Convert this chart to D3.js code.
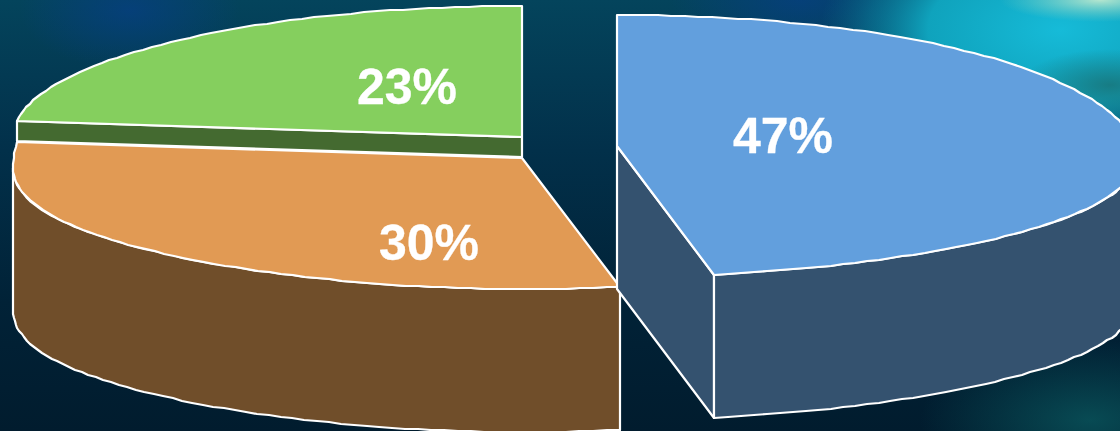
<!DOCTYPE html>
<html><head><meta charset="utf-8">
<script src="https://cdn.jsdelivr.net/npm/d3@7/dist/d3.min.js"></script>
<style>html,body{margin:0;padding:0;background:#02243a;overflow:hidden}svg{display:block}</style>
</head><body><svg id="c" width="1120" height="431"></svg>
<script>
const categories = ["Blue", "Orange", "Green"];
const shares = [47, 30, 23];
const labels = ["47%", "30%", "23%"];
const topColors = ["#629fdd", "#e19a54", "#85cf5e"];
const sideColors = ["#34526f", "#704e2a", "#446a30"];

const W = 1120, H = 431;
const svg = d3.select("#c");
const defs = svg.append("defs");

// background
function radial(id, stops){
  const g = defs.append("radialGradient").attr("id", id);
  stops.forEach(s => g.append("stop").attr("offset", s[0]).attr("stop-color", s[1]).attr("stop-opacity", s[2]));
}
const base = defs.append("linearGradient").attr("id","base").attr("x1",0).attr("y1",0).attr("x2",0).attr("y2",1);
[[0,"#04445c"],[0.35,"#02304a"],[0.7,"#012237"],[1,"#011c2e"]].forEach(s=>base.append("stop").attr("offset",s[0]).attr("stop-color",s[1]));
radial("navy",[[0,"#063f80",0.8],[1,"#063f80",0]]);
radial("cyan",[[0,"#16bbd8",1],[0.55,"#10a8c2",0.95],[0.8,"#0b80a0",0.55],[1,"#0a6a90",0]]);
radial("pale",[[0,"#b4e6cf",1],[1,"#7fd0c0",0]]);
radial("swirl",[[0,"#177c84",1],[1,"#177c84",0]]);
radial("low",[[0,"#0a5a60",0.75],[1,"#0a5a60",0]]);
svg.append("rect").attr("width",W).attr("height",H).attr("fill","url(#base)");
const glow = (cx,cy,rx,ry,f)=>svg.append("ellipse").attr("cx",cx).attr("cy",cy).attr("rx",rx).attr("ry",ry).attr("fill",`url(#${f})`);
glow(130,10,110,60,"navy");
glow(800,0,130,60,"navy");
glow(1060,30,240,130,"cyan");
glow(1100,0,100,22,"pale");
glow(1110,85,90,36,"swirl");
glow(1090,420,170,80,"low");

// projection of the tilted pie
const rxLeft = [520, 509, 509], rxRight = [520, 525, 509], ry = 131;
const centers = [[617,146],[522,158],[522,137]];
const depth = [143, 143, 20];
const sag = 10;
const pie = d3.pie().sort(null).value(d=>d).startAngle(0).endAngle(2*Math.PI);
const arcs = pie(shares);
const [blue, orange, green] = arcs;
const unitX = d3.scaleLinear().domain([-1,0,1]);
const unitY = d3.scaleLinear().domain([-1,1]);
const line = d3.line();
const bulge = [
  a => sag*Math.pow(Math.sin(a),4),
  a => a <= 1.5*Math.PI ? sag*Math.pow(Math.sin(a),4) : sag*(orange.endAngle-a)/(orange.endAngle-1.5*Math.PI),
  a => 0
];
function rim(i,a0,a1,dz){
  unitX.range([centers[i][0]-rxLeft[i], centers[i][0], centers[i][0]+rxRight[i]]);
  unitY.range([centers[i][1]-ry+dz, centers[i][1]+ry+dz]);
  const n = Math.max(1, Math.round(Math.abs(a1-a0)/(1.5*Math.PI/180)));
  return d3.range(n+1).map(k=>{
    const a = a0+(a1-a0)*k/n;
    return [Math.round(unitX(Math.sin(a))), Math.round(unitY(-Math.cos(a))+bulge[i](a))];
  });
}
function shape(pts,fill){
  svg.append("path").attr("d", line(pts)+"Z").attr("fill",fill)
    .attr("stroke","#fff").attr("stroke-width",2.2).attr("stroke-linejoin","round");
}
const apex = (i,dz=0)=>[centers[i][0], centers[i][1]+dz];

// green: cut face then top
{
  const left = rim(2,green.startAngle,green.startAngle,0)[0];
  shape([left, apex(2), apex(2,depth[2]), [left[0], left[1]+depth[2]]], sideColors[2]);
  shape([apex(2), ...rim(2,green.startAngle,green.endAngle,0)], topColors[2]);
}
// orange: outer wall then top
{
  const wallEnd = Math.PI*1.5;
  shape([...rim(1,orange.startAngle,wallEnd,0), ...rim(1,wallEnd,orange.startAngle,depth[1])], sideColors[1]);
  shape([apex(1), ...rim(1,orange.startAngle,orange.endAngle,0)], topColors[1]);
}
// blue: cut face, outer wall, top
{
  const corner = rim(0,blue.endAngle,blue.endAngle,0)[0];
  shape([apex(0), corner, [corner[0],corner[1]+depth[0]], apex(0,depth[0])], sideColors[0]);
  shape([...rim(0,Math.PI/2,blue.endAngle,0), ...rim(0,blue.endAngle,Math.PI/2,depth[0])], sideColors[0]);
  shape([apex(0), ...rim(0,blue.startAngle,blue.endAngle,0)], topColors[0]);
}
// labels
const labelPos = [[783,153],[429,260],[407,104]];
svg.selectAll("text.l").data(labels).join("text").attr("class","l")
  .attr("x",(d,i)=>labelPos[i][0]).attr("y",(d,i)=>labelPos[i][1])
  .attr("text-anchor","middle").attr("fill","#fff").attr("stroke","#fff").attr("stroke-width",0.3)
  .attr("font-family","'Liberation Sans',Arial,sans-serif").attr("font-weight","700").attr("font-size",50)
  .text(d=>d);
</script></body></html>
